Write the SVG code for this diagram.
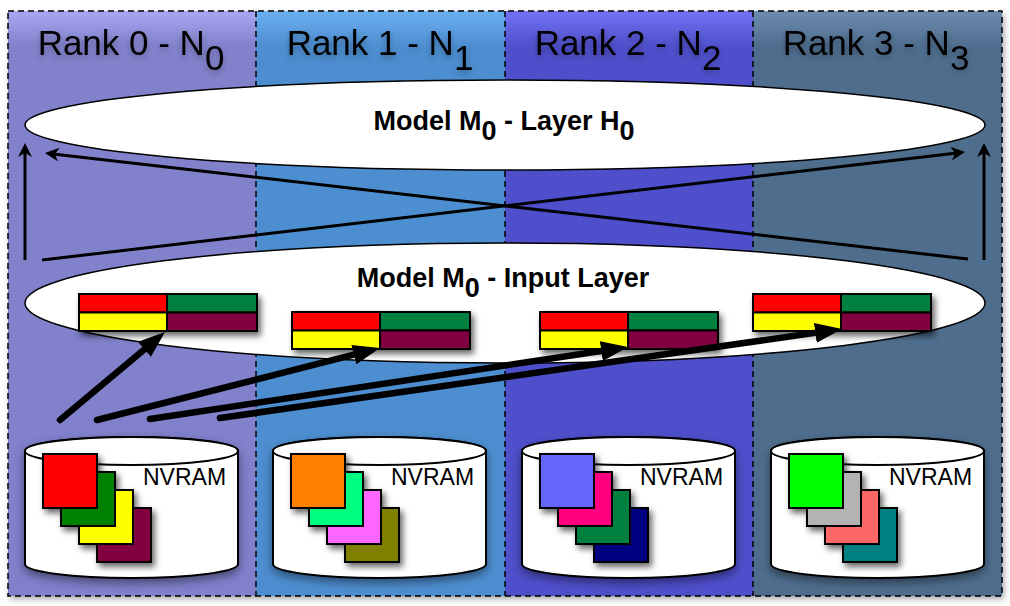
<svg xmlns="http://www.w3.org/2000/svg" width="1010" height="606" viewBox="0 0 1010 606">
<style>
.rank{font-family:"Liberation Sans",Arial,sans-serif;font-size:35px;fill:#000}
.model{font-family:"Liberation Sans",Arial,sans-serif;font-weight:bold;font-size:27px;fill:#000}
.nv{font-family:"Liberation Sans",Arial,sans-serif;font-size:23px;fill:#000}
.c{stroke:#000;stroke-width:2}
.cyl{fill:#fff;stroke:#000;stroke-width:2}
.ell{fill:#fff;stroke:#000;stroke-width:1.5}
.dash{stroke:#000;stroke-width:1.5;stroke-dasharray:6 4;fill:none}
.thin{stroke:#000;stroke-width:3;fill:none;marker-end:url(#ah)}
.thick{stroke:#000;stroke-width:6.5;stroke-linecap:round;fill:none;marker-end:url(#ahb)}
</style>
<defs>
<linearGradient id="g0" x1="0" y1="0" x2="0" y2="1"><stop offset="0" stop-color="#a8a8f2"/><stop offset="0.06" stop-color="#8282cc"/><stop offset="1" stop-color="#8080cc"/></linearGradient>
<linearGradient id="g1" x1="0" y1="0" x2="0" y2="1"><stop offset="0" stop-color="#6cb0f2"/><stop offset="0.06" stop-color="#4e8ed0"/><stop offset="1" stop-color="#4e8ed0"/></linearGradient>
<linearGradient id="g2" x1="0" y1="0" x2="0" y2="1"><stop offset="0" stop-color="#7272f4"/><stop offset="0.06" stop-color="#5050cc"/><stop offset="1" stop-color="#5050cc"/></linearGradient>
<linearGradient id="g3" x1="0" y1="0" x2="0" y2="1"><stop offset="0" stop-color="#6c8cb0"/><stop offset="0.06" stop-color="#4f6e8e"/><stop offset="1" stop-color="#4f6e8e"/></linearGradient>
<filter id="psh" x="-5%" y="-5%" width="110%" height="112%"><feDropShadow dx="2" dy="3" stdDeviation="3" flood-color="#000" flood-opacity="0.35"/></filter>
<filter id="sh" x="-30%" y="-30%" width="170%" height="180%"><feDropShadow dx="3" dy="4" stdDeviation="3" flood-color="#000" flood-opacity="0.6"/></filter>
<filter id="csh" x="-20%" y="-20%" width="140%" height="150%"><feDropShadow dx="0" dy="4" stdDeviation="5" flood-color="#000" flood-opacity="0.45"/></filter>
<filter id="tg" x="-20%" y="-40%" width="140%" height="200%"><feGaussianBlur in="SourceAlpha" stdDeviation="3"/><feOffset dy="3" result="b"/><feComponentTransfer in="b"><feFuncA type="linear" slope="0.3"/></feComponentTransfer><feMerge><feMergeNode/><feMergeNode in="SourceGraphic"/></feMerge></filter>
<marker id="ah" viewBox="0 0 14 14" markerWidth="14" markerHeight="14" refX="6" refY="7" orient="auto" markerUnits="userSpaceOnUse"><path d="M0,0 L14,7 L0,14 L4,7 Z" fill="#000"/></marker>
<marker id="ahb" viewBox="0 0 27 20" markerWidth="27" markerHeight="20" refX="10" refY="10" orient="auto" markerUnits="userSpaceOnUse"><path d="M0,0 L27,10 L0,20 Z" fill="#000"/></marker>
<g id="blk">
<rect class="c" x="0" y="0" width="88" height="18.5" fill="#ff0000"/>
<rect class="c" x="88" y="0" width="90" height="18.5" fill="#008040"/>
<rect class="c" x="0" y="18.5" width="88" height="18.5" fill="#ffff00"/>
<rect class="c" x="88" y="18.5" width="90" height="18.5" fill="#800040"/>
</g>
<path id="cylbody" d="M0,451 V564 A106.5,14 0 0 0 213,564 V451 A106.5,14 0 0 0 0,451 Z"/>
</defs>

<g id="panel" filter="url(#psh)">
<rect x="8" y="11" width="248" height="585" fill="url(#g0)"/>
<rect x="256" y="11" width="249" height="585" fill="url(#g1)"/>
<rect x="505" y="11" width="248" height="585" fill="url(#g2)"/>
<rect x="753" y="11" width="249" height="585" fill="url(#g3)"/>
</g>
<g id="dividers">
<rect class="dash" x="8" y="11" width="994" height="585"/>
<line class="dash" x1="256" y1="11" x2="256" y2="596"/>
<line class="dash" x1="505" y1="11" x2="505" y2="596"/>
<line class="dash" x1="753" y1="11" x2="753" y2="596"/>
</g>

<g id="rank0" filter="url(#tg)"><text class="rank" x="131" y="55" text-anchor="middle">Rank 0 - N<tspan dy="15">0</tspan></text></g>
<g id="rank1" filter="url(#tg)"><text class="rank" x="380" y="55" text-anchor="middle">Rank 1 - N<tspan dy="15">1</tspan></text></g>
<g id="rank2" filter="url(#tg)"><text class="rank" x="628" y="55" text-anchor="middle">Rank 2 - N<tspan dy="15">2</tspan></text></g>
<g id="rank3" filter="url(#tg)"><text class="rank" x="876" y="55" text-anchor="middle">Rank 3 - N<tspan dy="15">3</tspan></text></g>

<g id="layerH0">
<ellipse class="ell" cx="505" cy="125" rx="480" ry="45"/>
<text class="model" x="504" y="130" text-anchor="middle">Model M<tspan dy="10">0</tspan><tspan dy="-10"> - Layer H</tspan><tspan dy="10">0</tspan></text>
</g>

<g id="inputLayer">
<ellipse class="ell" cx="505" cy="303" rx="480" ry="60"/>
<text class="model" x="503" y="287" text-anchor="middle">Model M<tspan dy="10">0</tspan><tspan dy="-10"> - Input Layer</tspan></text>
</g>

<g id="block0" filter="url(#sh)"><use href="#blk" x="79" y="294"/></g>
<g id="block1" filter="url(#sh)"><use href="#blk" x="292" y="312"/></g>
<g id="block2" filter="url(#sh)"><use href="#blk" x="540" y="312"/></g>
<g id="block3" filter="url(#sh)"><use href="#blk" x="753" y="294"/></g>

<g id="nvram0" transform="translate(25,0)">
<use href="#cylbody" class="cyl" filter="url(#csh)"/>
<ellipse class="cyl" cx="106.5" cy="451" rx="106.5" ry="14"/>
<text class="nv" x="118" y="485">NVRAM</text>
<g filter="url(#sh)">
<rect class="c" x="72" y="508" width="54" height="54" fill="#800040"/>
<rect class="c" x="54" y="490" width="54" height="54" fill="#ffff00"/>
<rect class="c" x="36" y="472" width="54" height="54" fill="#008000"/>
<rect class="c" x="18" y="454" width="54" height="54" fill="#ff0000"/>
</g>
</g>
<g id="nvram1" transform="translate(273,0)">
<use href="#cylbody" class="cyl" filter="url(#csh)"/>
<ellipse class="cyl" cx="106.5" cy="451" rx="106.5" ry="14"/>
<text class="nv" x="118" y="485">NVRAM</text>
<g filter="url(#sh)">
<rect class="c" x="72" y="508" width="54" height="54" fill="#808000"/>
<rect class="c" x="54" y="490" width="54" height="54" fill="#ff66ff"/>
<rect class="c" x="36" y="472" width="54" height="54" fill="#00ff80"/>
<rect class="c" x="18" y="454" width="54" height="54" fill="#ff8000"/>
</g>
</g>
<g id="nvram2" transform="translate(522,0)">
<use href="#cylbody" class="cyl" filter="url(#csh)"/>
<ellipse class="cyl" cx="106.5" cy="451" rx="106.5" ry="14"/>
<text class="nv" x="118" y="485">NVRAM</text>
<g filter="url(#sh)">
<rect class="c" x="72" y="508" width="54" height="54" fill="#000080"/>
<rect class="c" x="54" y="490" width="54" height="54" fill="#008040"/>
<rect class="c" x="36" y="472" width="54" height="54" fill="#ff0080"/>
<rect class="c" x="18" y="454" width="54" height="54" fill="#6666ff"/>
</g>
</g>
<g id="nvram3" transform="translate(771,0)">
<use href="#cylbody" class="cyl" filter="url(#csh)"/>
<ellipse class="cyl" cx="106.5" cy="451" rx="106.5" ry="14"/>
<text class="nv" x="118" y="485">NVRAM</text>
<g filter="url(#sh)">
<rect class="c" x="72" y="508" width="54" height="54" fill="#008080"/>
<rect class="c" x="54" y="490" width="54" height="54" fill="#ff6666"/>
<rect class="c" x="36" y="472" width="54" height="54" fill="#b3b3b3"/>
<rect class="c" x="18" y="454" width="54" height="54" fill="#00ff00"/>
</g>
</g>

<g id="connectors">
<line class="thin" x1="25" y1="260" x2="25" y2="151"/>
<line class="thin" x1="984" y1="260" x2="984" y2="151"/>
<line class="thin" x1="42" y1="260" x2="957.1" y2="152.9"/>
<line class="thin" x1="968" y1="259" x2="52.9" y2="153.9"/>
<line class="thick" x1="60" y1="420" x2="152" y2="342.9"/>
<line class="thick" x1="97" y1="420" x2="363.5" y2="352.2"/>
<line class="thick" x1="150" y1="419" x2="611.2" y2="349.5"/>
<line class="thick" x1="220" y1="418" x2="825.2" y2="331.4"/>
</g>
</svg>
